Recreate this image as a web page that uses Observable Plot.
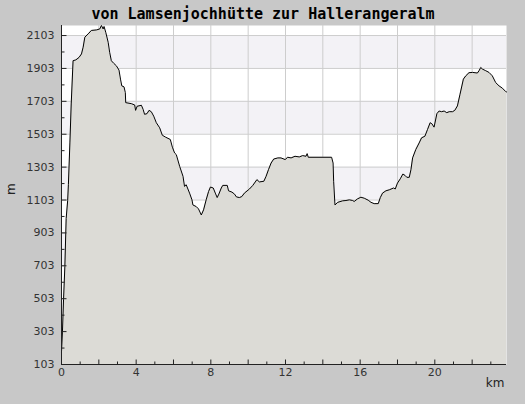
<!DOCTYPE html>
<html><head><meta charset="utf-8">
<script src="https://cdn.jsdelivr.net/npm/d3@7"></script>
<script src="https://cdn.jsdelivr.net/npm/@observablehq/plot@0.6"></script>
<style>body{margin:0;background:#c8c8c8;}</style>
</head><body><div id="chart"></div>
<script>
const title = "von Lamsenjochhütte zur Hallerangeralm";
const km = [0.00,0.05,0.11,0.18,0.25,0.33,0.37,0.45,0.52,0.62,0.77,0.94,1.07,1.16,1.25,1.43,1.60,1.87,2.05,2.14,2.23,2.28,2.37,2.50,2.58,2.67,2.80,2.94,3.08,3.16,3.23,3.35,3.42,3.44,3.74,3.92,3.97,4.05,4.28,4.37,4.45,4.58,4.69,4.81,4.94,5.08,5.26,5.40,5.58,5.83,5.94,6.06,6.15,6.33,6.51,6.59,6.68,6.86,6.99,7.04,7.22,7.34,7.49,7.61,7.75,7.88,7.98,8.13,8.24,8.34,8.43,8.56,8.64,8.88,8.95,9.13,9.27,9.37,9.53,9.66,9.80,10.07,10.25,10.47,10.60,10.84,10.96,11.09,11.23,11.37,11.59,11.76,11.98,12.12,12.30,12.51,12.74,12.92,13.10,13.16,13.22,14.47,14.55,14.58,14.65,14.80,15.06,15.24,15.42,15.60,15.68,15.86,16.04,16.22,16.43,16.58,16.75,16.97,17.08,17.20,17.38,17.56,17.79,17.88,18.00,18.15,18.29,18.40,18.50,18.63,18.72,18.81,18.98,19.16,19.29,19.47,19.61,19.75,19.84,19.96,20.11,20.23,20.36,20.50,20.64,20.77,20.95,21.07,21.21,21.35,21.53,21.66,21.83,22.02,22.28,22.37,22.46,22.55,22.73,22.90,23.08,23.26,23.44,23.62,23.80,23.84];
const elev = [180,300,500,700,990,1100,1198,1450,1687,1950,1955,1970,1991,2032,2093,2113,2134,2137,2143,2164,2143,2158,2123,2062,2001,1950,1934,1919,1893,1838,1797,1791,1756,1695,1689,1681,1648,1673,1679,1655,1624,1628,1648,1640,1613,1573,1542,1497,1485,1471,1424,1389,1379,1308,1247,1186,1196,1145,1104,1073,1063,1049,1012,1043,1104,1155,1182,1176,1145,1118,1139,1176,1192,1192,1159,1151,1139,1122,1118,1124,1145,1170,1192,1227,1213,1217,1247,1288,1328,1352,1359,1359,1349,1363,1359,1369,1365,1373,1369,1385,1363,1363,1328,1217,1073,1089,1098,1100,1104,1100,1094,1110,1120,1114,1102,1089,1081,1081,1118,1145,1159,1165,1176,1170,1206,1232,1261,1253,1241,1241,1287,1359,1410,1450,1481,1491,1532,1573,1567,1546,1628,1644,1640,1644,1634,1640,1640,1648,1675,1746,1838,1858,1877,1879,1875,1889,1909,1899,1889,1879,1858,1817,1797,1783,1762,1760];
const yLabels = [103,303,503,703,903,1103,1303,1503,1703,1903,2103];
const yMinor = [203,403,603,803,1003,1203,1403,1603,1803,2003];
const xLabels = [0,4,8,12,16,20];
const xMajor = [0,2,4,6,8,10,12,14,16,18,20,22];
const xMinor = [1,3,5,7,9,11,13,15,17,19,21,23];
const bandLo = [1903,1503,1103,703,303];
const bandHi = [2103,1703,1303,903,503];
const xMax = 23.84, yMax = 2164;

const data = km.map((k, i) => ({km: k, m: elev[i]}));
const bands = bandLo.map((lo, i) => ({lo, hi: bandHi[i]}));
const yBase = yLabels[0], xBase = xLabels[0];

// custom tick glyphs (length in px)
const tickUp = (l) => ({draw(ctx) { ctx.moveTo(0, 0); ctx.lineTo(0, -l); }});
const tickRight = (l) => ({draw(ctx) { ctx.moveTo(0, 0); ctx.lineTo(l, 0); }});

const chart = Plot.plot({
  width: 525, height: 404,
  marginLeft: 61, marginRight: 19, marginTop: 25, marginBottom: 40,
  style: {background: "#c8c8c8", fontFamily: "DejaVu Sans, sans-serif", fontSize: "11px", color: "#222"},
  x: {domain: [xBase, xMax]},
  y: {domain: [yBase, yMax]},
  marks: [
    Plot.frame({fill: "white", stroke: null}),
    Plot.rect(bands, {y1: "lo", y2: "hi", fill: "#f3f2f6"}),
    Plot.gridY(yLabels.slice(1), {stroke: "#cdcdcd", strokeOpacity: 1}),
    Plot.gridX(xMajor.slice(1), {stroke: "#cdcdcd", strokeOpacity: 1}),
    Plot.areaY(data, {x: "km", y: "m", fill: "#dcdbd6", clip: true}),
    Plot.line(data, {x: "km", y: "m", stroke: "#000", strokeWidth: 1}),
    Plot.ruleY([yBase], {stroke: "#222"}),
    Plot.ruleX([xBase], {stroke: "#222"}),
    Plot.dot(yLabels, {x: xBase, y: d => d, symbol: tickRight(5), fill: "none", stroke: "#222", strokeWidth: 1}),
    Plot.dot(yMinor, {x: xBase, y: d => d, symbol: tickRight(3), fill: "none", stroke: "#222", strokeWidth: 1}),
    Plot.dot(xMajor, {x: d => d, y: yBase, symbol: tickUp(5), fill: "none", stroke: "#222", strokeWidth: 1}),
    Plot.dot(xMinor, {x: d => d, y: yBase, symbol: tickUp(3), fill: "none", stroke: "#222", strokeWidth: 1}),
    Plot.axisY(yLabels, {tickSize: 0, tickPadding: 7, tickFormat: "d", label: null, fill: "#333"}),
    Plot.axisX(xLabels, {tickSize: 0, tickPadding: 4, tickFormat: "d", label: null, fill: "#333"}),
    Plot.text([title], {frameAnchor: "top", lineAnchor: "middle", dx: -21, dy: -11, fontFamily: "DejaVu Sans Mono, monospace", fontWeight: "bold", fontSize: 15, fill: "#000"}),
    Plot.text(["m"], {frameAnchor: "left", lineAnchor: "middle", dx: -50, rotate: -90, fontSize: 12, fill: "#222"}),
    Plot.text(["km"], {frameAnchor: "bottom-right", lineAnchor: "middle", dx: -2, dy: 19, textAnchor: "end", fontSize: 12, fill: "#222"})
  ]
});
document.getElementById("chart").appendChild(chart);
</script>
</body></html>
